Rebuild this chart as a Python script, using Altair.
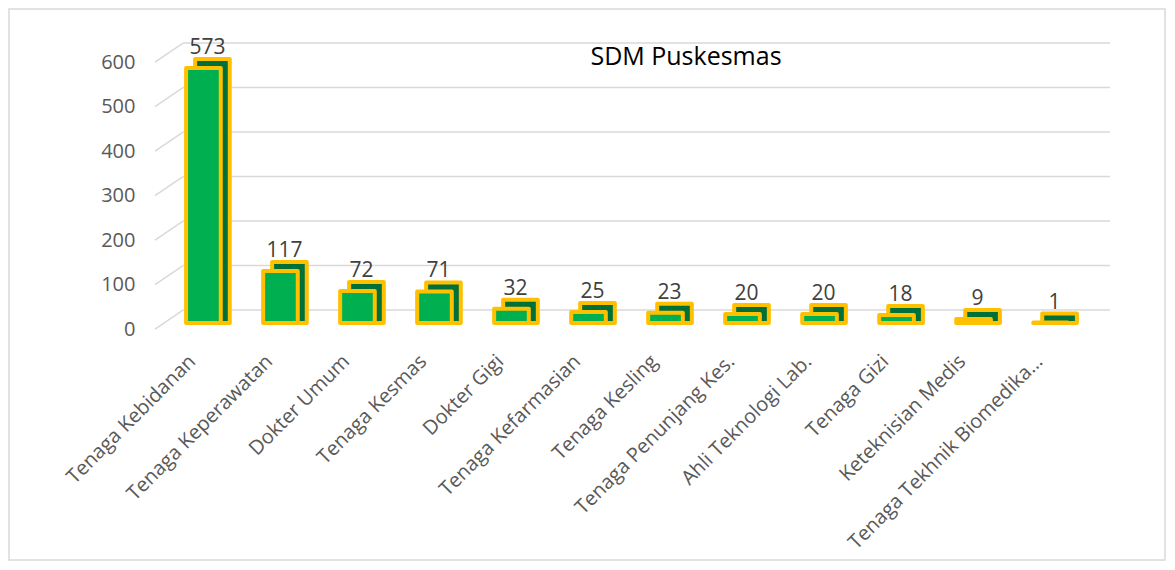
import altair as alt
import pandas as pd

categories = ["Tenaga Kebidanan", "Tenaga Keperawatan", "Dokter Umum", "Tenaga Kesmas",
              "Dokter Gigi", "Tenaga Kefarmasian", "Tenaga Kesling", "Tenaga Penunjang Kes.",
              "Ahli Teknologi Lab.", "Tenaga Gizi", "Keteknisian Medis", "Tenaga Tekhnik Biomedika…"]
values = [573, 117, 72, 71, 32, 25, 23, 20, 20, 18, 9, 1]
y_ticks = [0, 100, 200, 300, 400, 500, 600]
title_text = "SDM Puskesmas"

df = pd.DataFrame({"kategori": categories, "jumlah": values})
grid_df = pd.DataFrame({"tick": y_ticks})
one = pd.DataFrame({"a": [0]})

FONT = "Open Sans"
W, H = 928, 267
GREEN = "#00B050"
DARK = "#00703A"
GOLD = "#FFC000"

x_enc = alt.X("kategori:N", sort=categories,
              scale=alt.Scale(paddingInner=0.55, paddingOuter=0.3),
              axis=alt.Axis(labelAngle=-45, labelFontSize=20, labelColor="#595959",
                            labelFont=FONT, domain=False, ticks=False, labelPadding=35,
                            labelAlign="right", labelBaseline="middle", labelOffset=-11,
                            title=None, labelLimit=500))
y_scale = alt.Scale(domain=[0, 600], nice=False)
y_axis = alt.Axis(values=y_ticks, labelFontSize=20, labelColor="#595959", labelFont=FONT,
                  domain=False, ticks=False, grid=False, labelPadding=28, labelOffset=6,
                  title=None)

border = alt.Chart(one).mark_rect(fill="transparent", stroke="#D9D9D9", strokeWidth=1.5).encode(
    x=alt.value(-154), x2=alt.value(1002), y=alt.value(-47), y2=alt.value(504))

grid = alt.Chart(grid_df).mark_rule(color="#D9D9D9", strokeWidth=1.5, yOffset=-13).encode(
    y=alt.Y("tick:Q", scale=y_scale, axis=y_axis),
    x=alt.value(20), x2=alt.value(947))

diag = alt.Chart(grid_df).transform_calculate(
    y1="datum.tick - 13.5", y2b="datum.tick + 29.2"
).mark_rule(color="#D9D9D9", strokeWidth=1.5).encode(
    y=alt.Y("y1:Q", scale=y_scale), y2="y2b:Q",
    x=alt.value(-8), x2=alt.value(20))

back = alt.Chart(df).mark_bar(fill=DARK, stroke=GOLD, strokeWidth=4, xOffset=9, yOffset=-9,
                              strokeJoin="round").encode(
    x=x_enc, y=alt.Y("jumlah:Q", scale=y_scale), y2=alt.datum(0))

front = alt.Chart(df).mark_bar(fill=GREEN, stroke=GOLD, strokeWidth=4,
                               strokeJoin="round").encode(
    x=x_enc, y=alt.Y("jumlah:Q", scale=y_scale), y2=alt.datum(0))

labels = alt.Chart(df).mark_text(fontSize=21, font=FONT, color="#404040", dy=-20, dx=4,
                                 baseline="middle").encode(
    x=x_enc, y=alt.Y("jumlah:Q", scale=y_scale), text="jumlah:Q")

title = alt.Chart(one).transform_calculate(t="'" + title_text + "'").mark_text(
    fontSize=25, font=FONT, color="#000000", align="center", baseline="middle").encode(
    x=alt.value(523), y=alt.value(1), text="t:N")

chart = alt.layer(border, grid, diag, back, front, labels, title).properties(
    width=W, height=H,
    background="white",
    autosize=alt.AutoSizeParams(type="none"),
    padding={"left": 155, "top": 48, "right": 76, "bottom": 239},
).configure_view(stroke=None)

chart.save("out.html", embed_options={"renderer": "svg", "actions": False})
